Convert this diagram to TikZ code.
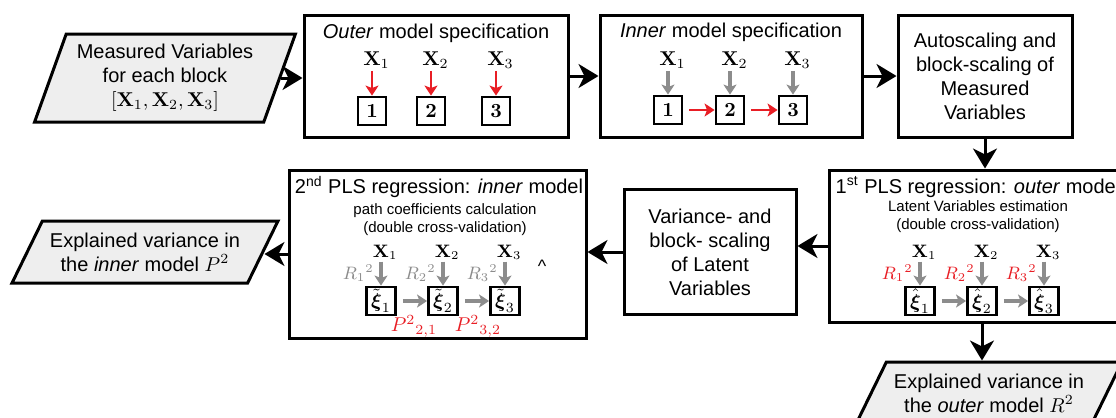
\documentclass[tikz,border=0pt]{standalone}
\usepackage{amsmath}
\usepackage[no-math]{fontspec}
\setmainfont{Liberation Sans}
\usepackage{xcolor}
\usetikzlibrary{shapes.geometric, arrows.meta, positioning}

\definecolor{plsred}{RGB}{232,30,37}
\definecolor{plsgray}{RGB}{140,140,140}
\definecolor{parafill}{RGB}{238,238,238}

\begin{document}
\begin{tikzpicture}[
    x=0.5pt, y=-0.5pt,
    para/.style={draw, line width=1.5pt, fill=parafill, shape=trapezium, trapezium stretches=true, trapezium left angle=54, trapezium right angle=126, align=center, inner sep=0pt},
    block/.style={draw, line width=1.5pt, align=center, inner sep=2pt},
    numbox/.style={draw, line width=1.4pt, minimum width=14pt, minimum height=14pt, inner sep=0pt},
    xbox/.style={draw, line width=1.4pt, minimum width=14.5pt, minimum height=14pt, inner sep=0pt},
    xlab/.style={inner sep=1pt},
    heading/.style={inner sep=0pt},
    subhead/.style={inner sep=0pt, align=center, font=\fontsize{7.5}{9}\selectfont},
    flow/.style={line width=1.5pt, -{Stealth[length=10pt, width=12pt, inset=3pt]}},
    redarr/.style={plsred, line width=1.3pt, -{Stealth[length=5pt, width=6.5pt, inset=1.2pt]}},
    grayarr/.style={plsgray, line width=1.6pt, -{Stealth[length=5pt, width=6.5pt, inset=1.2pt]}},
    rlab/.style={inner sep=0pt, anchor=east, font=\small}
]
    \useasboundingbox (0,0) rectangle (1116,418);
    \clip (0,0) rectangle (1116,418);

    % Input data
    \node[para, trapezium left angle=68, trapezium right angle=112, minimum width=130.5pt, minimum height=44pt, inner sep=1pt] (meas) at (165,78)
        {Measured Variables\\for each block\\$[\mathbf{X}_1, \mathbf{X}_2, \mathbf{X}_3]$};

    % Outer model specification
    \node[block, minimum width=132pt, minimum height=61pt] (outer) at (436,76) {};
    \node[heading] (outert) at (436,33) {\textit{Outer} model specification};
    \node[xlab] (ox1) at (372,60) {$\mathbf{X}\rlap{$_1$}$};
    \node[xlab] (ox2) at (431,60) {$\mathbf{X}\rlap{$_2$}$};
    \node[xlab] (ox3) at (496,60) {$\mathbf{X}\rlap{$_3$}$};
    \node[numbox] (on1) at (372,111) {$\mathbf{1}$};
    \node[numbox] (on2) at (431,111) {$\mathbf{2}$};
    \node[numbox] (on3) at (496,111) {$\mathbf{3}$};
    \draw[redarr] (ox1) -- (on1);
    \draw[redarr] (ox2) -- (on2);
    \draw[redarr] (ox3) -- (on3);

    % Inner model specification
    \node[block, minimum width=131pt, minimum height=61pt] (inner) at (731,76) {};
    \node[heading] (innert) at (731,32) {\textit{Inner} model specification};
    \node[xlab] (ix1) at (668,60) {$\mathbf{X}\rlap{$_1$}$};
    \node[xlab] (ix2) at (730,60) {$\mathbf{X}\rlap{$_2$}$};
    \node[xlab] (ix3) at (793,60) {$\mathbf{X}\rlap{$_3$}$};
    \node[numbox] (in1) at (668,110) {$\mathbf{1}$};
    \node[numbox] (in2) at (730,110) {$\mathbf{2}$};
    \node[numbox] (in3) at (793,110) {$\mathbf{3}$};
    \draw[grayarr] (ix1) -- (in1);
    \draw[grayarr] (ix2) -- (in2);
    \draw[grayarr] (ix3) -- (in3);
    \draw[redarr, shorten <=3pt] (in1) -- (in2);
    \draw[redarr, shorten <=3pt] (in2) -- (in3);

    % Scaling
    \node[block, minimum width=87pt, minimum height=61pt] (auto) at (985,76)
        {Autoscaling and\\block-scaling of\\Measured\\Variables};

    % 1st PLS regression
    \node[block, minimum width=153pt, minimum height=76pt] (pls1) at (982,246) {};
    \node[heading] (pls1t) at (978,187) {1\textsuperscript{st} PLS regression: \textit{outer} model};
    \node[subhead] (pls1s) at (978,217) {Latent Variables estimation\\(double cross-validation)};
    \node[xlab, font=\small] (px1) at (920,252) {$\mathbf{X}\rlap{$_1$}$};
    \node[xlab, font=\small] (px2) at (982,252) {$\mathbf{X}\rlap{$_2$}$};
    \node[xlab, font=\small] (px3) at (1044,252) {$\mathbf{X}\rlap{$_3$}$};
    \node[xbox] (pk1) at (920,301) {$\hat{\boldsymbol{\xi}}_1$};
    \node[xbox] (pk2) at (982,301) {$\hat{\boldsymbol{\xi}}_2$};
    \node[xbox] (pk3) at (1044,301) {$\hat{\boldsymbol{\xi}}_3$};
    \node[rlab, plsred] (pr1) at (913,273) {$R_1{}^2$};
    \node[rlab, plsred] (pr2) at (975,273) {$R_2{}^2$};
    \node[rlab, plsred] (pr3) at (1037,273) {$R_3{}^2$};
    \draw[grayarr] (px1) -- (pk1);
    \draw[grayarr] (px2) -- (pk2);
    \draw[grayarr] (px3) -- (pk3);
    \draw[grayarr, shorten <=3pt] (pk1) -- (pk2);
    \draw[grayarr, shorten <=3pt] (pk2) -- (pk3);

    % Latent variable scaling
    \node[block, minimum width=86pt, minimum height=62.5pt] (var) at (710,252)
        {Variance- and\\block- scaling\\of Latent\\Variables};

    % 2nd PLS regression
    \node[block, minimum width=148.5pt, minimum height=84pt] (pls2) at (437.5,254) {};
    \node[heading] (pls2t) at (439,187) {2\textsuperscript{nd} PLS regression: \textit{inner} model};
    \node[subhead] (pls2s) at (445,220) {path coefficients calculation\\(double cross-validation)};
    \node[xlab, font=\small] (qx1) at (381,252) {$\mathbf{X}\rlap{$_1$}$};
    \node[xlab, font=\small] (qx2) at (443,252) {$\mathbf{X}\rlap{$_2$}$};
    \node[xlab, font=\small] (qx3) at (505,252) {$\mathbf{X}\rlap{$_3$}$};
    \node[xbox] (qk1) at (381,301) {$\tilde{\boldsymbol{\xi}}_1$};
    \node[xbox] (qk2) at (443,301) {$\tilde{\boldsymbol{\xi}}_2$};
    \node[xbox] (qk3) at (505,301) {$\tilde{\boldsymbol{\xi}}_3$};
    \node[rlab, plsgray] (qr1) at (374,273) {$R_1{}^2$};
    \node[rlab, plsgray] (qr2) at (436,273) {$R_2{}^2$};
    \node[rlab, plsgray] (qr3) at (498,273) {$R_3{}^2$};
    \node[inner sep=0pt, plsred] (qp21) at (414,326) {$P^2{}_{2,1}$};
    \node[inner sep=0pt, plsred] (qp32) at (478,326) {$P^2{}_{3,2}$};
    \node[inner sep=0pt, font=\small] (caret) at (542,266) {\textasciicircum};
    \draw[grayarr] (qx1) -- (qk1);
    \draw[grayarr] (qx2) -- (qk2);
    \draw[grayarr] (qx3) -- (qk3);
    \draw[grayarr, shorten <=3pt] (qk1) -- (qk2);
    \draw[grayarr, shorten <=3pt] (qk2) -- (qk3);

    % Outputs
    \node[para, minimum width=133pt, minimum height=31pt] (lpara) at (145,252)
        {Explained variance in\\the \textit{inner} model $P^2$};
    \node[para, minimum width=133pt, minimum height=31pt] (bpara) at (989,393)
        {Explained variance in\\the \textit{outer} model $R^2$};

    % Flow
    \draw[flow] (meas.east) -- (meas.east -| outer.west);
    \draw[flow] (outer) -- (inner);
    \draw[flow] (inner) -- (auto);
    \draw[flow] (auto.south) -- (auto.south |- pls1.north);
    \draw[flow] (pls1.west) -- (pls1.west -| var.east);
    \draw[flow] (var.west) -- (var.west -| pls2.east);
    \draw[flow] (pls2.west) -- (pls2.west -| lpara.east);
    \draw[flow] (pls1.south) -- (pls1.south |- bpara.north);
\end{tikzpicture}
\end{document}
